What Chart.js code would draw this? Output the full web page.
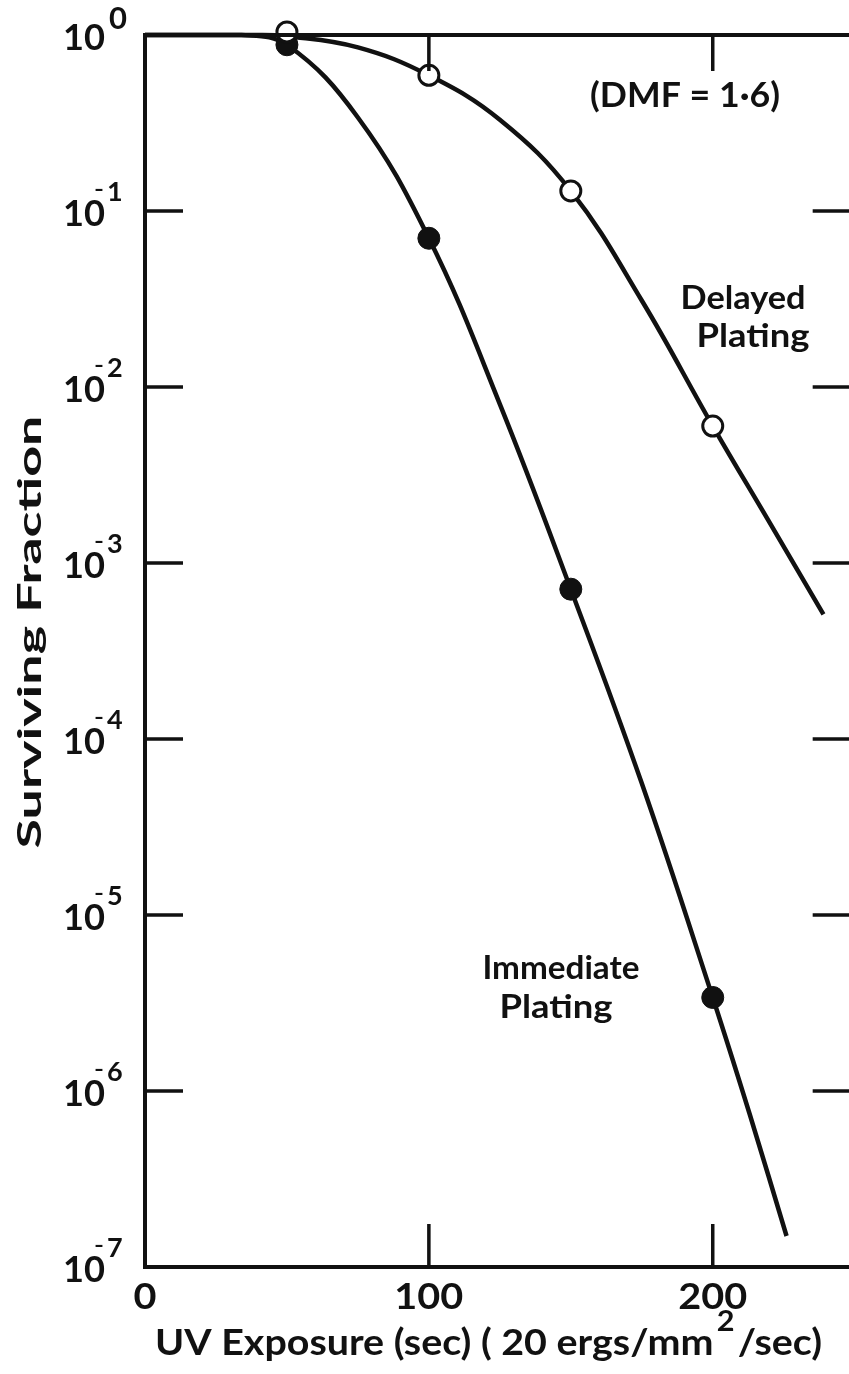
<!DOCTYPE html>
<html>
<head>
<meta charset="utf-8">
<script src="https://cdn.jsdelivr.net/npm/chart.js@4.4.1/dist/chart.umd.min.js"></script>
<style>
  html, body { margin: 0; padding: 0; background: #fff; overflow: hidden; }
  canvas { display: block; }
</style>
</head>
<body>
<canvas id="survival" width="849" height="1374"></canvas>
<script>
// UV survival curves, immediate vs delayed plating (log survival vs dose).
const doseTicks = [0, 100, 200];
const doseFrameEnd = 250;
const decadeExponents = [0, -1, -2, -3, -4, -5, -6, -7];

// measured points
const immediateDose = [50, 100, 150, 200];
const immediateSurv = [0.88, 0.070, 7.1e-4, 3.4e-6];
const delayedDose = [50, 100, 150, 200];
const delayedSurv = [1.04, 0.59, 0.13, 6.0e-3];

// hand-drawn fitted curves, read along their length
const immediateCurveDose = [0, 34, 50, 75, 100, 125, 150, 175, 200, 213, 226];
const immediateCurveSurv = [1, 1, 0.88, 0.34, 0.070, 8.0e-3, 7.1e-4, 5.6e-5, 3.4e-6, 7.4e-7, 1.5e-7];
const delayedCurveDose = [0, 40, 50, 75, 100, 125, 150, 175, 200, 220, 239];
const delayedCurveSurv = [1, 1, 0.985, 0.85, 0.59, 0.33, 0.13, 0.031, 6.0e-3, 1.7e-3, 5.1e-4];

const INK = '#111';
const FONT = 'Lato, "DejaVu Sans", sans-serif';
const WEIGHT = 'bold';

const toXY = (xs, ys) => xs.map((x, i) => ({ x, y: ys[i] }));

function text(ctx, str, x, y, size, align, fitWidth) {
  ctx.save();
  ctx.font = `${WEIGHT} ${size}px ${FONT}`;
  ctx.fillStyle = INK;
  ctx.textBaseline = 'middle';
  ctx.textAlign = align || 'center';
  ctx.translate(x, y);
  if (fitWidth) {
    const w = ctx.measureText(str).width;
    ctx.scale(fitWidth / w, 1);
  }
  ctx.fillText(str, 0, 0);
  ctx.restore();
}

// frame and inward ticks, as filled bars
const framePlugin = {
  id: 'frame',
  afterDatasetsDraw(chart) {
    const { ctx, scales: { x, y } } = chart;
    const left = x.getPixelForValue(0);
    const right = x.getPixelForValue(doseFrameEnd);
    const top = y.getPixelForValue(1);
    const bottom = y.getPixelForValue(1e-7);
    const axisW = 4;
    const tickW = 3.5;
    ctx.save();
    ctx.fillStyle = INK;
    ctx.fillRect(left - axisW / 2, top - axisW / 2, right - left + axisW, axisW);
    ctx.fillRect(left - axisW / 2, bottom - axisW / 2, right - left + axisW, axisW);
    ctx.fillRect(left - axisW / 2, top - axisW / 2, axisW, bottom - top + axisW);

    decadeExponents.slice(1, -1).forEach((e) => {
      const py = y.getPixelForValue(Math.pow(10, e));
      ctx.fillRect(left, py - tickW / 2, 38, tickW);
      ctx.fillRect(right - 42, py - tickW / 2, 42, tickW);
    });
    doseTicks.slice(1).forEach((d) => {
      const px = x.getPixelForValue(d);
      ctx.fillRect(px - tickW / 2, bottom - 43, tickW, 43);
      ctx.fillRect(px - tickW / 2, top, tickW, 36);
    });
    ctx.restore();
  },
  afterDraw(chart) {
    const { ctx, chartArea: a, scales: { x, y } } = chart;

    // y tick labels: 10 with raised exponent
    for (const e of decadeExponents) {
      const py = y.getPixelForValue(Math.pow(10, e));
      text(ctx, '10', 105, py + 3, 37, 'right', 42);
      if (e === 0) {
        text(ctx, '0', 109, py - 16, 31, 'left');
      } else {
        text(ctx, '−', 99, py - 20, 22, 'center', 9);
        text(ctx, String(-e), 107, py - 19, 27, 'left');
      }
    }

    // x tick labels
    for (const d of doseTicks) {
      const str = String(d);
      text(ctx, str, x.getPixelForValue(d), a.bottom + 30, 37, 'center', str.length * 23);
    }

    // x axis title with superscript
    ctx.save();
    ctx.font = `${WEIGHT} 36px ${FONT}`;
    const partA = 'UV Exposure (sec) ( 20 ergs/mm';
    const partB = '/sec)';
    const wA = ctx.measureText(partA).width;
    const wB = ctx.measureText(partB).width;
    ctx.font = `${WEIGHT} 28px ${FONT}`;
    const wSup = ctx.measureText('2').width + 6;
    const total = wA + wSup + wB;
    const sx = 667 / total;
    ctx.translate(155, 1343);
    ctx.scale(sx, 1);
    ctx.fillStyle = INK;
    ctx.textBaseline = 'middle';
    ctx.textAlign = 'left';
    ctx.font = `${WEIGHT} 36px ${FONT}`;
    ctx.fillText(partA, 0, 0);
    ctx.fillText(partB, wA + wSup, 0);
    ctx.font = `${WEIGHT} 28px ${FONT}`;
    ctx.fillText('2', wA + 3, -21);
    ctx.restore();

    // y axis title
    ctx.save();
    ctx.translate(30, 632);
    ctx.rotate(-Math.PI / 2);
    text(ctx, 'Surviving Fraction', 0, 0, 33, 'center', 433);
    ctx.restore();

    // annotations
    text(ctx, '(DMF = 1·6)', 685, 96, 34, 'center', 190);
    text(ctx, 'Delayed', 743, 298, 33, 'center', 125);
    text(ctx, 'Plating', 753, 336, 33, 'center', 113);
    text(ctx, 'Immediate', 561, 968, 33, 'center', 157);
    text(ctx, 'Plating', 556, 1007, 33, 'center', 113);
  },
};

const curveStyle = {
  borderColor: INK,
  borderWidth: 4.5,
  pointRadius: 0,
  showLine: true,
  tension: 0.4,
  fill: false,
  clip: false,
};

new Chart(document.getElementById('survival'), {
  type: 'scatter',
  data: {
    datasets: [
      {
        label: 'Delayed plating',
        data: toXY(delayedDose, delayedSurv),
        showLine: false,
        pointRadius: 10,
        pointBorderWidth: 3,
        pointBackgroundColor: '#fff',
        pointBorderColor: INK,
        clip: false,
        order: 0,
      },
      {
        label: 'Immediate plating',
        data: toXY(immediateDose, immediateSurv),
        showLine: false,
        pointRadius: 11,
        pointBorderWidth: 1,
        pointBackgroundColor: INK,
        pointBorderColor: INK,
        clip: false,
        order: 1,
      },
      { label: 'Delayed fit', data: toXY(delayedCurveDose, delayedCurveSurv), ...curveStyle, order: 2 },
      { label: 'Immediate fit', data: toXY(immediateCurveDose, immediateCurveSurv), ...curveStyle, order: 3 },
    ],
  },
  options: {
    responsive: false,
    animation: false,
    events: [],
    layout: { autoPadding: false, padding: { left: 145, top: 35, right: 0, bottom: 107 } },
    scales: {
      x: { type: 'linear', min: 0, max: 248, display: false },
      y: { type: 'logarithmic', min: 1e-7, max: 1, display: false },
    },
    plugins: {
      legend: { display: false },
      tooltip: { enabled: false },
    },
  },
  plugins: [framePlugin],
});
</script>
</body>
</html>
